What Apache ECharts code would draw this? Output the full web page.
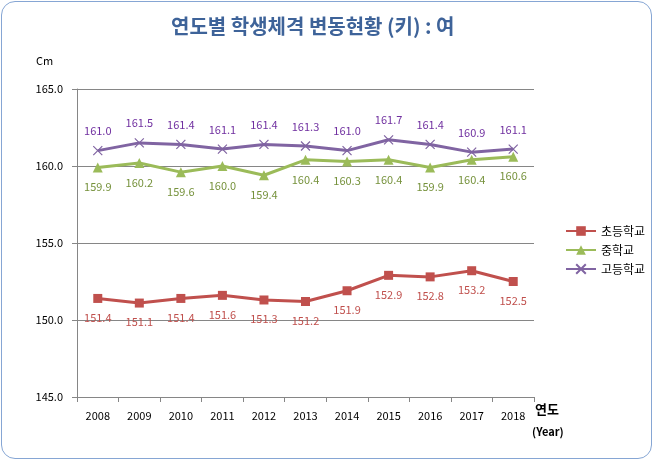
<!DOCTYPE html>
<html><head><meta charset="utf-8">
<script src="https://cdn.jsdelivr.net/npm/echarts@6/dist/echarts.min.js"></script>
<style>
html,body{margin:0;padding:0;background:#fff;}
#wrap{position:absolute;left:1px;top:1px;width:651px;height:458px;border:1px solid #86A6D4;border-radius:14px;box-sizing:border-box;}
#c{position:absolute;left:0;top:0;width:655px;height:462px;}
</style></head>
<body><div id="wrap"></div><div id="c"></div>
<script>
var years = ['2008','2009','2010','2011','2012','2013','2014','2015','2016','2017','2018'];
var elementary = [151.4,151.1,151.4,151.6,151.3,151.2,151.9,152.9,152.8,153.2,152.5];
var middle = [159.9,160.2,159.6,160.0,159.4,160.4,160.3,160.4,159.9,160.4,160.6];
var high = [161.0,161.5,161.4,161.1,161.4,161.3,161.0,161.7,161.4,160.9,161.1];
var seriesNames = ['초등학교','중학교','고등학교'];
var yTicks = [145,150,155,160,165];

var chart = echarts.init(document.getElementById('c'), null, {renderer:'canvas'});
var font = "'Noto Sans CJK KR','Noto Sans',sans-serif";
function lab(color,pos){return {show:true,position:pos,distance:9,color:color,fontSize:11,fontFamily:font,formatter:function(p){return p.value.toFixed(1);}};}
chart.setOption({
  animation:false,
  textStyle:{fontFamily:font},
  title:{text:'연도별 학생체격 변동현황 (키) : 여',left:166,top:11,textStyle:{color:'#3E6399',fontSize:20,fontWeight:'bold',fontFamily:font}},
  legend:{orient:'vertical',left:560,top:220,itemGap:7,itemWidth:30,itemHeight:12,
    textStyle:{fontSize:12,color:'#000',fontFamily:font},data:seriesNames},
  grid:{left:77,right:121,top:89,bottom:65},
  xAxis:{type:'category',data:years,boundaryGap:true,
    axisLine:{lineStyle:{color:'#868686',width:1}},
    axisTick:{show:true,alignWithLabel:false,length:5,lineStyle:{color:'#868686'}},
    axisLabel:{color:'#000',fontSize:11,margin:13,fontFamily:font}},
  yAxis:{type:'value',min:145,max:165,interval:5,
    axisLine:{show:true,lineStyle:{color:'#868686'}},
    axisTick:{show:true,length:5,lineStyle:{color:'#868686'}},
    splitLine:{show:true,lineStyle:{color:'#868686',width:1}},
    axisLabel:{color:'#000',fontSize:11,margin:14,fontFamily:font,formatter:function(v){return v.toFixed(1);}}},
  graphic:[
    {type:'text',left:36,top:55,style:{text:'Cm',fontSize:11,fill:'#000',fontFamily:font}},
    {type:'text',left:535,top:403,style:{text:'연도',fontSize:13,fontWeight:'bold',fill:'#000',fontFamily:font}},
    {type:'text',left:532,top:426,style:{text:'(Year)',fontSize:11,fontWeight:'bold',fill:'#000',fontFamily:font}}
  ],
  series:[
    {name:seriesNames[0],type:'line',data:elementary,symbol:'rect',symbolSize:9,
      lineStyle:{color:'#C0504D',width:3},itemStyle:{color:'#C0504D'},label:lab('#C0504D','bottom')},
    {name:seriesNames[1],type:'line',data:middle,symbol:'triangle',symbolSize:10,
      lineStyle:{color:'#9BBB59',width:3},itemStyle:{color:'#9BBB59'},label:lab('#76923C','bottom')},
    {name:seriesNames[2],type:'line',data:high,
      symbol:'path://M0,0L10,10M10,0L0,10',symbolSize:9,
      lineStyle:{color:'#8064A2',width:3},itemStyle:{color:'#8064A2',borderColor:'#8064A2',borderWidth:1.2},label:lab('#7030A0','top')}
  ]
});
</script></body></html>
